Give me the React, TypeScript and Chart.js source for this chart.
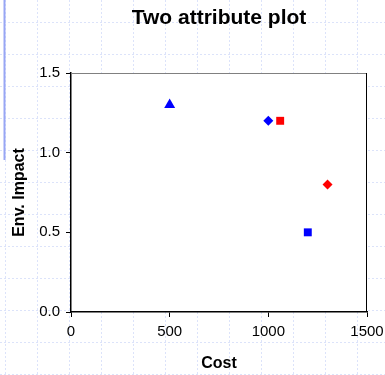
import { useEffect, useRef } from "react";
import { Chart, registerables } from "chart.js";

Chart.register(...registerables);

// Alternatives plotted by cost against environmental impact
const blueCost = [500, 1000, 1200];
const blueImpact = [1.3, 1.2, 0.5];
const blueShapes = ["triangle", "rectRot", "rect"];

const redCost = [1060, 1300];
const redImpact = [1.2, 0.8];
const redShapes = ["rect", "rectRot"];

const costTicks = [0, 500, 1000, 1500];
const impactTicks = [0, 0.5, 1.0, 1.5];

const FONT = "Arial, 'Liberation Sans', Helvetica, sans-serif";

const radiusFor = (shape: string) =>
  shape === "triangle" ? 6.3 : shape === "rectRot" ? 5 : 5.6;

const toPoints = (xs: number[], ys: number[]) =>
  xs.map((x, i) => ({ x, y: ys[i] }));

// Graph-paper backdrop, white plot area and the lighter top/right frame
const paperPlugin = {
  id: "paper",
  beforeDraw(chart: any) {
    const { ctx, width, height, chartArea: a } = chart;
    ctx.save();
    ctx.fillStyle = "#ffffff";
    ctx.fillRect(0, 0, width, height);
    ctx.strokeStyle = "#dce3fa";
    ctx.lineWidth = 1;
    ctx.setLineDash([2, 2]);
    for (let x = 5; x < width; x += 32) {
      ctx.beginPath();
      ctx.moveTo(x + 0.5, 0);
      ctx.lineTo(x + 0.5, height);
      ctx.stroke();
    }
    for (let y = 22; y < height; y += 32) {
      ctx.beginPath();
      ctx.moveTo(0, y + 0.5);
      ctx.lineTo(width, y + 0.5);
      ctx.stroke();
    }
    ctx.setLineDash([]);
    ctx.strokeStyle = "#98a6f4";
    ctx.lineWidth = 2;
    ctx.beginPath();
    ctx.moveTo(4.5, 0);
    ctx.lineTo(4.5, 160);
    ctx.stroke();
    ctx.fillStyle = "#ffffff";
    ctx.fillRect(a.left, a.top, a.right - a.left, a.bottom - a.top);
    ctx.restore();
  },
  afterDraw(chart: any) {
    const { ctx, chartArea: a } = chart;
    ctx.save();
    ctx.lineWidth = 1;
    ctx.strokeStyle = "#808080";
    ctx.beginPath();
    ctx.moveTo(a.left, a.top + 0.5);
    ctx.lineTo(a.right, a.top + 0.5);
    ctx.stroke();
    ctx.strokeStyle = "#000000";
    ctx.beginPath();
    ctx.moveTo(a.right - 0.5, a.top);
    ctx.lineTo(a.right - 0.5, a.bottom);
    ctx.stroke();
    ctx.restore();
  },
};

export default function App() {
  const canvasRef = useRef<HTMLCanvasElement | null>(null);

  useEffect(() => {
    const canvas = canvasRef.current;
    if (!canvas) return;

    const chart = new Chart(canvas, {
      type: "scatter",
      data: {
        datasets: [
          {
            label: "Blue",
            data: toPoints(blueCost, blueImpact),
            pointStyle: blueShapes as any,
            pointRadius: blueShapes.map(radiusFor),
            backgroundColor: "#0000ff",
            borderColor: "#0000ff",
            borderWidth: 0,
          },
          {
            label: "Red",
            data: toPoints(redCost, redImpact),
            pointStyle: redShapes as any,
            pointRadius: redShapes.map(radiusFor),
            backgroundColor: "#ff0000",
            borderColor: "#ff0000",
            borderWidth: 0,
          },
        ],
      },
      options: {
        responsive: false,
        animation: false,
        devicePixelRatio: 1,
        layout: { padding: { left: 0, right: 18, top: 0, bottom: 0 } },
        plugins: {
          legend: { display: false },
          tooltip: { enabled: false },
          title: {
            display: true,
            fullSize: false,
            text: "Two attribute plot",
            color: "#000000",
            font: { family: FONT, size: 21, weight: "bold" },
            padding: { top: 5.5, bottom: 42.3 },
          },
        },
        scales: {
          x: {
            type: "linear",
            min: costTicks[0],
            max: costTicks[costTicks.length - 1],
            afterBuildTicks: (s: any) => {
              s.ticks = costTicks.map((v) => ({ value: v }));
            },
            afterFit: (s: any) => {
              s.height = 63;
              s.paddingLeft = 0;
              s.paddingRight = 0;
            },
            ticks: {
              color: "#000000",
              font: { family: FONT, size: 15 },
              padding: 6,
              callback: (v: any) => String(v),
            },
            grid: {
              drawOnChartArea: false,
              drawTicks: true,
              tickLength: 5,
              tickColor: "#000000",
            },
            border: { display: true, color: "#000000", width: 1.5 },
            title: {
              display: true,
              text: "Cost",
              color: "#000000",
              font: { family: FONT, size: 16, weight: "bold" },
              padding: { top: 0, bottom: 1.6 },
            },
          },
          y: {
            type: "linear",
            min: impactTicks[0],
            max: impactTicks[impactTicks.length - 1],
            afterBuildTicks: (s: any) => {
              s.ticks = impactTicks.map((v) => ({ value: v }));
            },
            afterFit: (s: any) => {
              s.width = 71;
              s.paddingTop = 0;
              s.paddingBottom = 0;
            },
            ticks: {
              color: "#000000",
              font: { family: FONT, size: 15 },
              padding: 6,
              callback: (v: any) => Number(v).toFixed(1),
            },
            grid: {
              drawOnChartArea: false,
              drawTicks: true,
              tickLength: 5,
              tickColor: "#000000",
            },
            border: { display: true, color: "#000000", width: 1.5 },
            title: {
              display: true,
              text: "Env. Impact",
              color: "#000000",
              font: { family: FONT, size: 16, weight: "bold" },
              padding: { top: 9.5, bottom: 0 },
            },
          },
        },
      },
      plugins: [paperPlugin],
    });

    return () => chart.destroy();
  }, []);

  return (
    <div style={{ position: "absolute", left: 0, top: 0, width: 385, height: 375 }}>
      <canvas ref={canvasRef} width={385} height={375} />
    </div>
  );
}
